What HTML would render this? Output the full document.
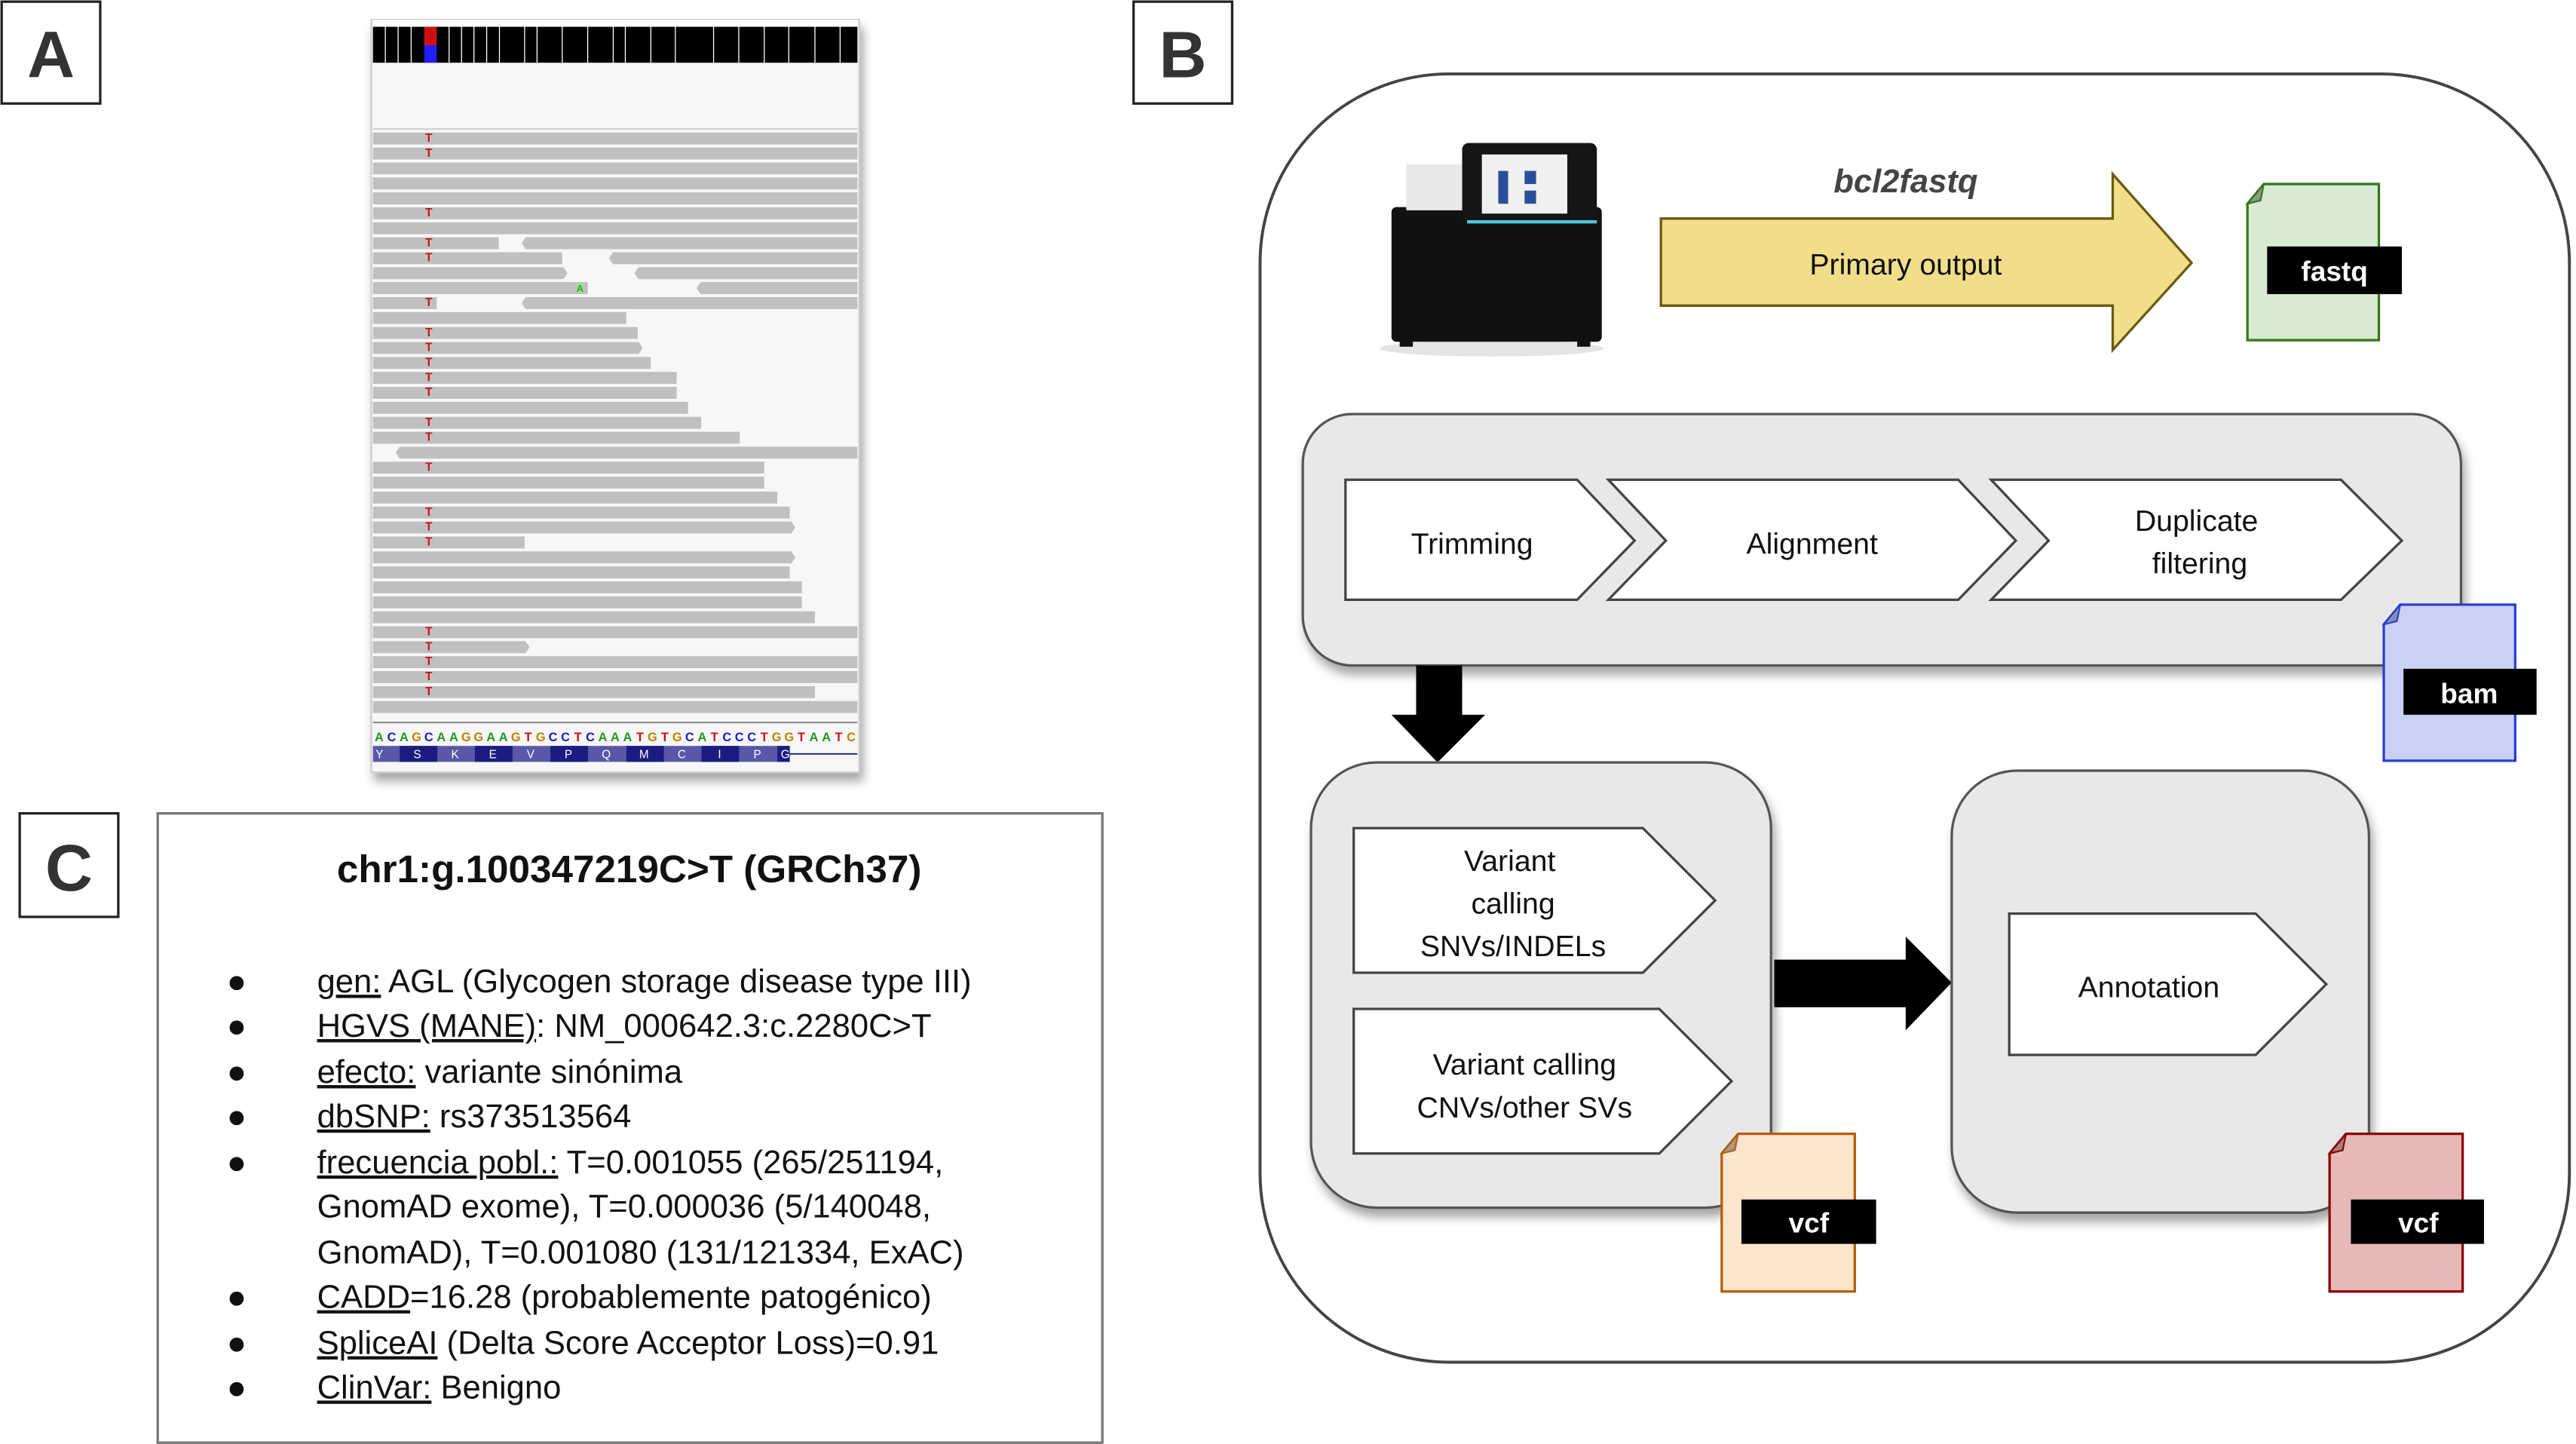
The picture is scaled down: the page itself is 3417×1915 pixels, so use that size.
<!DOCTYPE html>
<html><head><meta charset="utf-8"><style>
html,body{margin:0;padding:0;background:#fff;}
svg{display:block;}
text{font-family:"Liberation Sans",Arial,sans-serif;}
</style></head><body>
<svg width="3417" height="1915" viewBox="0 0 1568 878.8" preserveAspectRatio="none" xmlns="http://www.w3.org/2000/svg">
<defs>
<filter id="sh" x="-5%" y="-5%" width="115%" height="120%"><feDropShadow dx="2" dy="5" stdDeviation="3" flood-color="#000" flood-opacity="0.35"/></filter>
</defs>
<rect x="1" y="1" width="60" height="62" fill="#fff" stroke="#222" stroke-width="1.5"/>
<text x="31" y="47" font-size="40" font-weight="bold" text-anchor="middle" fill="#333">A</text>
<rect x="690" y="1" width="60" height="62" fill="#fff" stroke="#222" stroke-width="1.5"/>
<text x="720" y="47" font-size="40" font-weight="bold" text-anchor="middle" fill="#333">B</text>
<rect x="12" y="495" width="60" height="63" fill="#fff" stroke="#222" stroke-width="1.5"/>
<text x="42" y="542" font-size="40" font-weight="bold" text-anchor="middle" fill="#333">C</text>

<rect x="226" y="12" width="297" height="458" fill="#f7f7f7" stroke="#ccc" stroke-width="1" filter="url(#sh)"/>
<g transform="translate(220.43,1.14) scale(0.199,0.3035)">
  <rect x="33" y="50" width="1482" height="72" fill="#000"/>
  <rect x="190" y="50" width="38" height="37" fill="#d01010"/>
  <rect x="190" y="87" width="38" height="35" fill="#2020ff"/>
  <g stroke="#fff" stroke-width="3">
   <line x1="71" y1="45" x2="71" y2="122"/><line x1="110" y1="45" x2="110" y2="122"/><line x1="150" y1="45" x2="150" y2="122"/><line x1="266" y1="45" x2="266" y2="122"/><line x1="304" y1="45" x2="304" y2="122"/><line x1="342" y1="45" x2="342" y2="122"/><line x1="381" y1="45" x2="381" y2="122"/><line x1="420" y1="45" x2="420" y2="122"/><line x1="497" y1="45" x2="497" y2="122"/><line x1="535" y1="45" x2="535" y2="122"/><line x1="612" y1="45" x2="612" y2="122"/><line x1="690" y1="45" x2="690" y2="122"/><line x1="768" y1="45" x2="768" y2="122"/><line x1="805" y1="45" x2="805" y2="122"/><line x1="883" y1="45" x2="883" y2="122"/><line x1="958" y1="45" x2="958" y2="122"/><line x1="1075" y1="45" x2="1075" y2="122"/><line x1="1152" y1="45" x2="1152" y2="122"/><line x1="1230" y1="45" x2="1230" y2="122"/><line x1="1305" y1="45" x2="1305" y2="122"/><line x1="1385" y1="45" x2="1385" y2="122"/><line x1="1462" y1="45" x2="1462" y2="122"/>
  </g>
  <rect x="33" y="36" width="1482" height="12" fill="#fff"/>
  <rect x="33" y="124" width="1482" height="128" fill="#f7f7f7"/>
  <line x1="33" y1="255" x2="1515" y2="255" stroke="#ccc" stroke-width="3"/>
  <g fill="#c0c0c0">
   <rect x="33" y="262" width="1482" height="24"/><rect x="33" y="292" width="1482" height="24"/><rect x="33" y="322" width="1482" height="24"/><rect x="33" y="352" width="1482" height="24"/><rect x="33" y="382" width="1482" height="24"/><rect x="33" y="412" width="1482" height="24"/><rect x="33" y="442" width="1482" height="24"/>
   <rect x="33" y="472" width="385" height="24"/><polygon points="500,472 1515,472 1515,496 500,496 488,484"/>
   <rect x="33" y="502" width="579" height="24"/><polygon points="767,502 1515,502 1515,526 767,526 755,514"/>
   <polygon points="33,532 616,532 628,544 616,556 33,556"/><polygon points="845,532 1515,532 1515,556 845,556 833,544"/>
   <rect x="33" y="562" width="657" height="24"/><polygon points="1035,562 1515,562 1515,586 1035,586 1023,574"/>
   <rect x="33" y="592" width="195" height="24"/><polygon points="500,592 1515,592 1515,616 500,616 488,604"/>
   <rect x="33" y="622" width="775" height="24"/><rect x="33" y="652" width="810" height="24"/>
   <polygon points="33,682 846,682 858,694 846,706 33,706"/>
   <rect x="33" y="712" width="850" height="24"/><rect x="33" y="742" width="929" height="24"/><rect x="33" y="772" width="929" height="24"/><rect x="33" y="802" width="964" height="24"/><rect x="33" y="832" width="1004" height="24"/><rect x="33" y="862" width="1122" height="24"/>
   <polygon points="115,892 1515,892 1515,916 115,916 103,904"/>
   <rect x="33" y="922" width="1197" height="24"/><rect x="33" y="952" width="1197" height="24"/><rect x="33" y="982" width="1237" height="24"/><rect x="33" y="1012" width="1275" height="24"/>
   <polygon points="33,1042 1313,1042 1325,1054 1313,1066 33,1066"/>
   <rect x="33" y="1072" width="464" height="24"/>
   <polygon points="33,1102 1313,1102 1325,1114 1313,1126 33,1126"/>
   <rect x="33" y="1132" width="1275" height="24"/><rect x="33" y="1162" width="1312" height="24"/><rect x="33" y="1192" width="1312" height="24"/><rect x="33" y="1222" width="1352" height="24"/><rect x="33" y="1252" width="1482" height="24"/>
   <polygon points="33,1282 500,1282 512,1294 500,1306 33,1306"/>
   <rect x="33" y="1312" width="1482" height="24"/><rect x="33" y="1342" width="1482" height="24"/><rect x="33" y="1372" width="1352" height="24"/><rect x="33" y="1402" width="1482" height="24"/>
  </g>
  <rect x="655" y="564" width="22" height="20" fill="#9fdc8f"/>
  <line x1="33" y1="1445" x2="1515" y2="1445" stroke="#888" stroke-width="3"/>
  <rect x="33" y="1492" width="1275" height="32" fill="#5858a8"/>
  <g fill="#1c1c80"><rect x="115" y="1492" width="115" height="32"/><rect x="345" y="1492" width="115" height="32"/><rect x="576" y="1492" width="115" height="32"/><rect x="808" y="1492" width="115" height="32"/><rect x="1038" y="1492" width="115" height="32"/><rect x="1270" y="1492" width="38" height="32"/></g>
  <line x1="1308" y1="1508" x2="1515" y2="1508" stroke="#1c1c80" stroke-width="3"/>
</g>
<g font-size="7" font-weight="bold" fill="#cc1111" text-anchor="middle">
<text x="261" y="86.3">T</text><text x="261" y="95.4">T</text><text x="261" y="131.8">T</text><text x="261" y="150">T</text><text x="261" y="159.1">T</text><text x="261" y="186.4">T</text><text x="261" y="204.6">T</text><text x="261" y="213.7">T</text><text x="261" y="222.8">T</text><text x="261" y="231.9">T</text><text x="261" y="241">T</text><text x="261" y="259.2">T</text><text x="261" y="268.3">T</text><text x="261" y="286.5">T</text><text x="261" y="313.8">T</text><text x="261" y="322.9">T</text><text x="261" y="332">T</text><text x="261" y="386.6">T</text><text x="261" y="395.7">T</text><text x="261" y="404.8">T</text><text x="261" y="413.9">T</text><text x="261" y="423">T</text>
</g>
<text x="353" y="177.5" font-size="6" font-weight="bold" fill="#3a3" text-anchor="middle">A</text>
<g font-size="7.5" font-weight="bold" text-anchor="middle">
<text x="230.8" y="451" fill="#1a9a1a">A</text><text x="238.4" y="451" fill="#1a1ad0">C</text><text x="245.9" y="451" fill="#1a9a1a">A</text><text x="253.5" y="451" fill="#c08000">G</text><text x="261" y="451" fill="#1a1ad0">C</text><text x="268.6" y="451" fill="#1a9a1a">A</text><text x="276.2" y="451" fill="#1a9a1a">A</text><text x="283.7" y="451" fill="#c08000">G</text><text x="291.3" y="451" fill="#c08000">G</text><text x="298.8" y="451" fill="#1a9a1a">A</text><text x="306.4" y="451" fill="#1a9a1a">A</text><text x="314" y="451" fill="#c08000">G</text><text x="321.5" y="451" fill="#cc1111">T</text><text x="329.1" y="451" fill="#c08000">G</text><text x="336.6" y="451" fill="#1a1ad0">C</text><text x="344.2" y="451" fill="#1a1ad0">C</text><text x="351.8" y="451" fill="#cc1111">T</text><text x="359.3" y="451" fill="#1a1ad0">C</text><text x="366.9" y="451" fill="#1a9a1a">A</text><text x="374.4" y="451" fill="#1a9a1a">A</text><text x="382" y="451" fill="#1a9a1a">A</text><text x="389.6" y="451" fill="#cc1111">T</text><text x="397.1" y="451" fill="#c08000">G</text><text x="404.7" y="451" fill="#cc1111">T</text><text x="412.2" y="451" fill="#c08000">G</text><text x="419.8" y="451" fill="#1a1ad0">C</text><text x="427.4" y="451" fill="#1a9a1a">A</text><text x="434.9" y="451" fill="#cc1111">T</text><text x="442.5" y="451" fill="#1a1ad0">C</text><text x="450" y="451" fill="#1a1ad0">C</text><text x="457.6" y="451" fill="#1a1ad0">C</text><text x="465.2" y="451" fill="#cc1111">T</text><text x="472.7" y="451" fill="#c08000">G</text><text x="480.3" y="451" fill="#c08000">G</text><text x="487.8" y="451" fill="#cc1111">T</text><text x="495.4" y="451" fill="#1a9a1a">A</text><text x="503" y="451" fill="#1a9a1a">A</text><text x="510.5" y="451" fill="#cc1111">T</text><text x="518.1" y="451" fill="#c08000">C</text>
</g>
<g font-size="7" fill="#fff" text-anchor="middle">
<text x="231" y="461.5">Y</text><text x="254" y="461.5">S</text><text x="277" y="461.5">K</text><text x="300" y="461.5">E</text><text x="323" y="461.5">V</text><text x="346" y="461.5">P</text><text x="369" y="461.5">Q</text><text x="392" y="461.5">M</text><text x="415" y="461.5">C</text><text x="438" y="461.5">I</text><text x="461" y="461.5">P</text><text x="478" y="461.5">G</text>
</g>

<rect x="767" y="45" width="797" height="784" rx="115" ry="115" fill="#fff" stroke="#444" stroke-width="1.8"/>
<!-- sequencer -->
<ellipse cx="908" cy="212" rx="68" ry="5" fill="#e4e4e4"/>
<rect x="847" y="126" width="128" height="82" rx="3" fill="#111"/>
<rect x="856" y="100" width="40" height="28" fill="#e8e8e8"/>
<rect x="890" y="87" width="82" height="48" rx="4" fill="#151515"/>
<rect x="902" y="94" width="52" height="36" fill="#f0f0f0"/>
<rect x="912" y="104" width="6" height="20" fill="#2a4f9a"/><rect x="928" y="104" width="7" height="8" fill="#2a4f9a"/><rect x="928" y="116" width="7" height="8" fill="#2a4f9a"/>
<rect x="893" y="134" width="79" height="2" fill="#4cc8d8"/>
<rect x="852" y="205" width="8" height="6" fill="#111"/><rect x="960" y="205" width="8" height="6" fill="#111"/>
<text x="1160" y="117" font-size="20" font-weight="bold" font-style="italic" fill="#444" text-anchor="middle">bcl2fastq</text>
<polygon points="1011,133 1286,133 1286,106 1334,160 1286,213 1286,186 1011,186" fill="#f1de8a" stroke="#6b5a10" stroke-width="1.5"/>
<text x="1160" y="167" font-size="18" fill="#111" text-anchor="middle">Primary output</text>
<path d="M1378,112 L1448,112 L1448,207 L1368,207 L1368,124 Z" fill="#d9ead3" stroke="#38761d" stroke-width="1.5"/>
<path d="M1378,112 L1376,122 L1368,124 Z" fill="#8a9a85" stroke="#38761d" stroke-width="1"/>
<rect x="1380" y="150" width="82" height="29" fill="#000"/>
<text x="1421" y="171" font-size="17" font-weight="bold" fill="#fff" text-anchor="middle">fastq</text>

<rect x="793" y="252" width="705" height="153" rx="30" ry="30" fill="#e8e8e8" stroke="#555" stroke-width="1.5" filter="url(#sh)"/>
<polygon points="819,292 960,292 995,329 960,365 819,365" fill="#fff" stroke="#444" stroke-width="1.5"/>
<polygon points="979,292 1192,292 1227,329 1192,365 979,365 1014,329" fill="#fff" stroke="#444" stroke-width="1.5"/>
<polygon points="1212,292 1425,292 1462,329 1425,365 1212,365 1247,329" fill="#fff" stroke="#444" stroke-width="1.5"/>
<text x="896" y="337" font-size="18" fill="#111" text-anchor="middle">Trimming</text>
<text x="1103" y="337" font-size="18" fill="#111" text-anchor="middle">Alignment</text>
<text x="1337" y="323" font-size="18" fill="#111" text-anchor="middle">Duplicate</text>
<text x="1339" y="349" font-size="18" fill="#111" text-anchor="middle">filtering</text>
<path d="M1461,368 L1531,368 L1531,463 L1451,463 L1451,380 Z" fill="#c9d2f5" stroke="#2b3fd0" stroke-width="1.5"/>
<path d="M1461,368 L1459,378 L1451,380 Z" fill="#8890b0" stroke="#2b3fd0" stroke-width="1"/>
<rect x="1463" y="407" width="81" height="28" fill="#000"/>
<text x="1503" y="428" font-size="17" font-weight="bold" fill="#fff" text-anchor="middle">bam</text>

<polygon points="862,405 890,405 890,435 904,435 875,464 847,435 862,435" fill="#000"/>

<rect x="798" y="464" width="280" height="271" rx="40" ry="40" fill="#e8e8e8" stroke="#555" stroke-width="1.5" filter="url(#sh)"/>
<polygon points="824,504 1000,504 1044,548 1000,592 824,592" fill="#fff" stroke="#444" stroke-width="1.5"/>
<polygon points="824,614 1010,614 1054,658 1010,702 824,702" fill="#fff" stroke="#444" stroke-width="1.5"/>
<text x="919" y="530" font-size="18" fill="#111" text-anchor="middle">Variant</text>
<text x="921" y="556" font-size="18" fill="#111" text-anchor="middle">calling</text>
<text x="921" y="582" font-size="18" fill="#111" text-anchor="middle">SNVs/INDELs</text>
<text x="928" y="654" font-size="18" fill="#111" text-anchor="middle">Variant calling</text>
<text x="928" y="680" font-size="18" fill="#111" text-anchor="middle">CNVs/other SVs</text>
<path d="M1058,690 L1129,690 L1129,786 L1048,786 L1048,702 Z" fill="#fce5cd" stroke="#b45f06" stroke-width="1.5"/>
<path d="M1058,690 L1056,700 L1048,702 Z" fill="#a89888" stroke="#b45f06" stroke-width="1"/>
<rect x="1060" y="730" width="82" height="27" fill="#000"/>
<text x="1101" y="750" font-size="17" font-weight="bold" fill="#fff" text-anchor="middle">vcf</text>

<polygon points="1080,584 1160,584 1160,570 1188,598 1160,627 1160,613 1080,613" fill="#000"/>

<rect x="1188" y="469" width="254" height="269" rx="40" ry="40" fill="#e8e8e8" stroke="#555" stroke-width="1.5" filter="url(#sh)"/>
<polygon points="1223,556 1373,556 1416,599 1373,642 1223,642" fill="#fff" stroke="#444" stroke-width="1.5"/>
<text x="1308" y="607" font-size="18" fill="#111" text-anchor="middle">Annotation</text>
<path d="M1428,690 L1499,690 L1499,786 L1418,786 L1418,702 Z" fill="#e6b8b7" stroke="#8b0000" stroke-width="1.5"/>
<path d="M1428,690 L1426,700 L1418,702 Z" fill="#a08080" stroke="#8b0000" stroke-width="1"/>
<rect x="1431" y="730" width="81" height="27" fill="#000"/>
<text x="1472" y="750" font-size="17" font-weight="bold" fill="#fff" text-anchor="middle">vcf</text>

<rect x="96" y="495" width="575" height="383" fill="#fff" stroke="#777" stroke-width="1.5"/>
<text x="383" y="537" font-size="23.5" font-weight="bold" fill="#111" text-anchor="middle">chr1:g.100347219C&gt;T (GRCh37)</text>
<g font-size="20" fill="#111">
<g font-size="20"><text x="138" y="604">●</text><text x="138" y="631">●</text><text x="138" y="659">●</text><text x="138" y="686">●</text><text x="138" y="714">●</text><text x="138" y="796">●</text><text x="138" y="824">●</text><text x="138" y="851">●</text></g>
<text x="193" y="604"><tspan text-decoration="underline">gen:</tspan> AGL (Glycogen storage disease type III)</text>
<text x="193" y="631"><tspan text-decoration="underline">HGVS (MANE)</tspan>: NM_000642.3:c.2280C&gt;T</text>
<text x="193" y="659"><tspan text-decoration="underline">efecto:</tspan> variante sinónima</text>
<text x="193" y="686"><tspan text-decoration="underline">dbSNP:</tspan> rs373513564</text>
<text x="193" y="714"><tspan text-decoration="underline">frecuencia pobl.:</tspan> T=0.001055 (265/251194,</text>
<text x="193" y="741">GnomAD exome), T=0.000036 (5/140048,</text>
<text x="193" y="769">GnomAD), T=0.001080 (131/121334, ExAC)</text>
<text x="193" y="796"><tspan text-decoration="underline">CADD</tspan>=16.28 (probablemente patogénico)</text>
<text x="193" y="824"><tspan text-decoration="underline">SpliceAI</tspan> (Delta Score Acceptor Loss)=0.91</text>
<text x="193" y="851"><tspan text-decoration="underline">ClinVar:</tspan> Benigno</text>
</g>
</svg>
</body></html>
